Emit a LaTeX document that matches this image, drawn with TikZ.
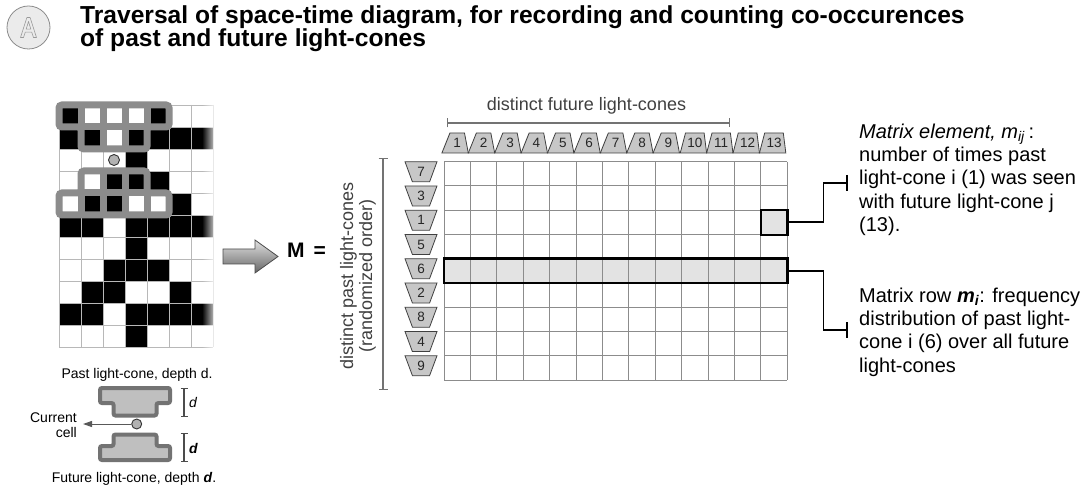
\documentclass[tikz,border=0pt]{standalone}
\usepackage{fontspec}
\setmainfont{Liberation Sans}
\usetikzlibrary{positioning,shapes.geometric,arrows.meta,fadings}

\definecolor{conegray}{HTML}{8C8C8C}
\definecolor{hilite}{HTML}{E3E3E3}
\tikzfading[name=fadeleft, left color=transparent!100, right color=transparent!0]

\tikzset{
  title/.style={anchor=base west, inner sep=0pt, font=\bfseries\fontsize{24.6}{26}\selectfont},
  note/.style={anchor=north west, align=left, inner sep=0pt, font=\fontsize{20}{23.4}\selectfont},
  axislabel/.style={inner sep=0pt, text=black!75, font=\fontsize{18}{19}\selectfont},
  smalltext/.style={inner sep=0pt, font=\fontsize{14}{15}\selectfont},
  cagrid/.style={draw=black!28, line width=0.8pt},
  coneline/.style={draw=conegray, line width=7pt},
  conerim/.style={draw=conegray, line width=7pt, rounded corners=3pt},
  curcell/.style={circle, draw=black!80, fill=black!30, line width=0.9pt, minimum size=11pt, inner sep=0pt},
  colcone/.style={trapezium, trapezium left angle=66, trapezium right angle=78,
    trapezium stretches=true, minimum width=26.4pt, minimum height=20pt, inner sep=0pt,
    draw=black!75, fill=black!22, line width=0.8pt, text=black!85, font=\fontsize{13.5}{13.5}\selectfont},
  rowcone/.style={trapezium, trapezium angle=71, shape border rotate=180,
    trapezium stretches=true, minimum width=32pt, minimum height=20pt, inner sep=0pt,
    draw=black!75, fill=black!22, line width=0.8pt, text=black!85, font=\fontsize{13.5}{13.5}\selectfont},
  matgrid/.style={draw=black!45, line width=1pt},
  hiborder/.style={draw=black, line width=2.2pt},
  callout/.style={draw=black, line width=1.8pt, -{Bar[width=16pt]}},
  bracket/.style={draw=black!55, line width=1.2pt, {Bar[width=9pt]}-{Bar[width=9pt]}},
  dbar/.style={draw=black!70, line width=1.2pt, {Bar[width=7pt]}-{Bar[width=7pt]}},
  legcone/.style={draw=black!55, fill=black!25, line width=4pt, rounded corners=2pt},
  curarrow/.style={draw=black!65, line width=1pt, -{Triangle[length=9pt,width=6pt]}},
}

\begin{document}
\begin{tikzpicture}[x=1pt, y=-1pt]
  \fill[white] (0,0) rectangle (1089,486);
  \useasboundingbox (0,0) rectangle (1089,486);

  % badge and heading
  \node[circle, draw=black!45, fill=black!8, line width=0.8pt, minimum size=43pt, inner sep=0pt] (badge) at (28.5,27.5) {};
  \begin{scope}[shift={(badge.center)}]
    \draw[black!40, line width=0.6pt, line join=round]
      (-8,10) -- (-1.6,-10) -- (1.6,-10) -- (8,10) -- (5,10) -- (3.2,4.6) -- (-3.2,4.6) -- (-5,10) -- cycle
      (-2.3,1.6) -- (2.3,1.6) -- (0,-6) -- cycle;
  \end{scope}
  \node[title] (title1) at (80,23.3) {Traversal of space-time diagram, for recording and counting co-occurences};
  \node[title] (title2) at (80,46.7) {of past and future light-cones};

  % space-time diagram, one row per time step
  \foreach \pat [count=\r from 0] in {
      {1,0,0,0,1,0,0}, {1,1,0,1,1,1,1}, {0,0,0,1,0,0,0}, {0,0,1,1,1,0,0},
      {0,1,1,0,0,1,0}, {1,1,0,1,1,1,1}, {0,0,0,1,0,0,0}, {0,0,1,1,1,0,0},
      {0,1,1,0,0,1,0}, {1,1,0,1,1,1,1}, {0,0,0,1,0,0,0}}{
    \foreach \v [count=\c from 0] in \pat {
      \ifnum\v=1 \fill ({59+22*\c},{105+22*\r}) rectangle ++(22,22); \fi
    }
  }
  \foreach \c in {0,...,7} \draw[cagrid] ({59+22*\c},105) -- ({59+22*\c},347);
  \foreach \r in {0,...,11} \draw[cagrid] (59,{105+22*\r}) -- (213,{105+22*\r});

  % past light-cone
  \foreach \x in {81,103,125,147} \draw[coneline] (\x,105) -- (\x,127);
  \foreach \x in {103,125} \draw[coneline] (\x,127) -- (\x,149);
  \draw[coneline] (81,127) -- (147,127);
  \draw[conerim] (59,105) -- (169,105) -- (169,127) -- (147,127) -- (147,149)
    -- (81,149) -- (81,127) -- (59,127) -- cycle;
  % future light-cone
  \foreach \x in {103,125} \draw[coneline] (\x,171) -- (\x,193);
  \foreach \x in {81,103,125,147} \draw[coneline] (\x,193) -- (\x,215);
  \draw[coneline] (81,193) -- (147,193);
  \draw[conerim] (81,171) -- (147,171) -- (147,193) -- (169,193) -- (169,215)
    -- (59,215) -- (59,193) -- (81,193) -- cycle;
  \node[curcell] (cur) at (114,160) {};
  \fill[white, path fading=fadeleft] (202,100) rectangle (218,352);

  % legend
  \node[smalltext, anchor=base] (pastlab) at (137,378) {Past light-cone, depth d.};
  \draw[legcone] (100,388) -- (170,388) -- (170,403) -- (156.5,403) -- (156.5,415.5)
    -- (113.5,415.5) -- (113.5,403) -- (100,403) -- cycle;
  \draw[legcone] (113.5,434.5) -- (156.5,434.5) -- (156.5,446) -- (170,446) -- (170,460)
    -- (100,460) -- (100,446) -- (113.5,446) -- cycle;
  \node[curcell, minimum size=10pt] (legcell) at (136.7,424) {};
  \coordinate (curtip) at (83,424);
  \draw[curarrow] (legcell.west) -- (curtip);
  \node[smalltext, align=right, anchor=north east] (curlab) at (77,413) {Current\\cell};
  \coordinate (dtop-a) at (184,388);
  \coordinate (dtop-b) at (184,417);
  \coordinate (dbot-a) at (184,433);
  \coordinate (dbot-b) at (184,462);
  \draw[dbar] (dtop-a) -- (dtop-b);
  \draw[dbar] (dbot-a) -- (dbot-b);
  \node[smalltext, anchor=base west, font=\itshape\fontsize{14}{14}\selectfont] (dtoplab) at (189,407) {d};
  \node[smalltext, anchor=base west, font=\bfseries\itshape\fontsize{14}{14}\selectfont] (dbotlab) at (189,453) {d};
  \node[smalltext, anchor=base] (futlab) at (134,482) {Future light-cone, depth \textbf{\textit{d}}.};

  % arrow and matrix name
  \shade[top color=black!12, bottom color=black!60, draw=black!70, line width=0.8pt]
    (223,249) -- (255,249) -- (255,240) -- (278,256.5) -- (255,273) -- (255,264) -- (223,264) -- cycle;
  \node[anchor=base west, inner sep=0pt, font=\bfseries\fontsize{21}{21}\selectfont] (Meq) at (287,258) {M\hspace{9pt}=};

  % co-occurrence matrix
  \node[fill=hilite, minimum width=343.2pt, minimum height=24.26pt, inner sep=0pt] (mrow) at (615.6,270.87) {};
  \node[fill=hilite, minimum width=26.4pt, minimum height=24.26pt, inner sep=0pt] (mij) at (774,222.35) {};
  \foreach \c in {0,...,13} \draw[matgrid] ({444+26.4*\c},161.7) -- ({444+26.4*\c},380);
  \foreach \r in {0,...,9} \draw[matgrid] (444,{161.7+24.26*\r}) -- (787.2,{161.7+24.26*\r});
  \draw[hiborder] (mrow.north west) rectangle (mrow.south east);
  \draw[hiborder] (mij.north west) rectangle (mij.south east);

  \foreach \j in {1,...,13} \node[colcone] (fc\j) at ({444+26.4*\j-13.2},143) {\j};
  \foreach \n [count=\r from 0] in {7,3,1,5,6,2,8,4,9} \node[rowcone] (pc\n) at (421,{171.7+24.26*\r}) {\n};

  \coordinate (futbar-l) at (447,123);
  \coordinate (futbar-r) at (730,123);
  \draw[bracket] (futbar-l) -- (futbar-r);
  \node[axislabel, anchor=base] (futaxis) at (586.5,110.5) {distinct future light-cones};
  \coordinate (pastbar-t) at (383,158);
  \coordinate (pastbar-b) at (383,390);
  \draw[bracket] (pastbar-t) -- (pastbar-b);
  \node[axislabel, rotate=90, align=center] (pastaxis) at (358,276) {distinct past light-cones\\(randomized order)};

  % annotations
  \node[note] (elemtext) at (859,123.5) {\textit{Matrix element, m}\textsubscript{\textit{ij}}\,:\\number of times past\\light-cone i (1) was seen\\with future light-cone j\\(13).};
  \node[note] (rowtext) at (859,287.5) {Matrix row \textbf{\textit{m}}\textsubscript{\textbf{\textit{i}}}: frequency\\distribution of past light-\\cone i (6) over all future\\light-cones};
  \coordinate (elemend) at (848,183);
  \coordinate (rowend) at (848,330);
  \draw[callout] (mij.east) -- ++(36,0) |- (elemend);
  \draw[callout] (mrow.east) -- ++(36,0) |- (rowend);
\end{tikzpicture}
\end{document}
